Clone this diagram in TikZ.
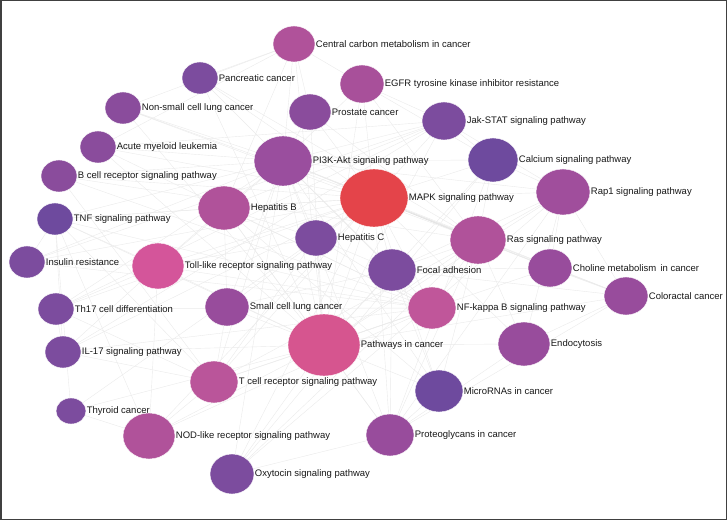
\documentclass[tikz,border=0pt]{standalone}
\usepackage{fontspec}
\setmainfont{Liberation Sans}
\usetikzlibrary{shapes.geometric}
\pgfdeclarelayer{bg}
\pgfsetlayers{bg,main}
\definecolor{cred}{HTML}{E4444A}
\definecolor{cpinkA}{HTML}{D6558F}
\definecolor{cpinkB}{HTML}{D4559A}
\definecolor{cmid}{HTML}{B0529A}
\definecolor{cmidB}{HTML}{BA559A}
\definecolor{cmidC}{HTML}{C0569A}
\definecolor{cmidD}{HTML}{A8509A}
\definecolor{cpurA}{HTML}{9A4E9E}
\definecolor{cpurB}{HTML}{984C9C}
\definecolor{cpurC}{HTML}{A04E9C}
\definecolor{cpurD}{HTML}{8A4C9C}
\definecolor{cpurE}{HTML}{7C4C9E}
\definecolor{cblu}{HTML}{6E4A9E}
\tikzset{
  pw/.style={ellipse, inner sep=0pt, draw=white, line width=0.4pt},
  lbl/.style={anchor=west, inner sep=0.5pt, font=\fontsize{9.5}{11}\selectfont, text=black!90},
  edge/.style={draw=black!8, line width=0.4pt},
}
\newcommand\mynode[7]{%
  \node[pw, minimum width=#4*2pt, minimum height=#5*2pt, fill=#6] (#1) at (#2,#3) {};
  \node[lbl] (#1-l) at (#1.east) {#7};}
\begin{document}
\begin{tikzpicture}[x=1pt,y=-1pt]
\useasboundingbox (0,0) rectangle (728,521);
\mynode{ccm}{294}{44}{21}{18}{cmid}{Central carbon metabolism in cancer}
\mynode{panc}{200}{78}{18}{16}{cpurE}{Pancreatic cancer}
\mynode{nsclc}{123}{108}{18}{16}{cpurD}{Non-small cell lung cancer}
\mynode{aml}{98}{147}{18}{16}{cpurD}{Acute myeloid leukemia}
\mynode{bcell}{59}{176}{18}{16}{cpurD}{B cell receptor signaling pathway}
\mynode{tnf}{55}{219}{18}{16}{cblu}{TNF signaling pathway}
\mynode{ins}{27}{262}{18}{16}{cpurE}{Insulin resistance}
\mynode{th17}{56}{309}{18}{16}{cpurE}{Th17 cell differentiation}
\mynode{il17}{63}{352}{18}{16}{cpurE}{IL-17 signaling pathway}
\mynode{thy}{71}{411}{15}{13}{cpurE}{Thyroid cancer}
\mynode{nod}{149}{436}{26}{23}{cmid}{NOD-like receptor signaling pathway}
\mynode{oxy}{232}{474}{22}{20}{cpurE}{Oxytocin signaling pathway}
\mynode{tcell}{214}{382}{24}{21}{cmidB}{T cell receptor signaling pathway}
\mynode{sclc}{227}{307}{22}{19}{cpurB}{Small cell lung cancer}
\mynode{toll}{158}{266}{26}{23}{cpinkB}{Toll-like receptor signaling pathway}
\mynode{path}{324}{345}{36}{31}{cpinkA}{Pathways in cancer}
\mynode{hepb}{224}{208}{26}{22}{cmid}{Hepatitis B}
\mynode{pi3k}{283}{161}{29}{25}{cpurA}{PI3K-Akt signaling pathway}
\mynode{pros}{310}{112}{21}{18}{cpurD}{Prostate cancer}
\mynode{egfr}{362}{84}{22}{19}{cmidD}{EGFR tyrosine kinase inhibitor resistance}
\mynode{hepc}{316}{238}{21}{18}{cpurE}{Hepatitis C}
\mynode{mapk}{374}{198}{34}{29}{cred}{MAPK signaling pathway}
\mynode{jak}{444}{121}{22}{19}{cpurE}{Jak-STAT signaling pathway}
\mynode{calc}{493}{160}{25}{22}{cblu}{Calcium signaling pathway}
\mynode{rap1}{563}{192}{27}{23}{cpurC}{Rap1 signaling pathway}
\mynode{ras}{478}{240}{28}{24}{cmid}{Ras signaling pathway}
\mynode{focal}{392}{270}{24}{21}{cpurE}{Focal adhesion}
\mynode{chol}{550}{268}{22}{19}{cpurB}{Choline metabolism\, in cancer}
\mynode{colo}{626}{296}{22}{19}{cpurB}{Coloractal cancer}
\mynode{nfkb}{432}{308}{24}{21}{cmidC}{NF-kappa B signaling pathway}
\mynode{endo}{524}{344}{26}{22}{cpurB}{Endocytosis}
\mynode{mirna}{439}{391}{24}{21}{cblu}{MicroRNAs in cancer}
\mynode{prot}{390}{435}{24}{21}{cpurB}{Proteoglycans in cancer}
\begin{pgfonlayer}{bg}
\fill[white] (0,0) rectangle (728,521);
\foreach \t in {ccm,panc,nsclc,aml,pros,egfr,jak,calc,rap1,ras,focal,chol,colo,nfkb,mirna,prot,sclc,thy,hepb,hepc,pi3k,mapk,tnf,il17,toll,tcell,nod,endo,oxy}
  \draw[edge] (path) -- (\t);
\foreach \t in {panc,nsclc,aml,bcell,tnf,ins,th17,il17,thy,nod,oxy,tcell,sclc,toll,hepb,pi3k,pros,egfr,hepc,jak,calc,rap1,focal,chol,colo,nfkb,endo,mirna,prot}
  \draw[edge] (mapk) -- (\t);
\draw[edge, draw=black!14, line width=1pt] (mapk) -- (ras);
\foreach \t in {panc,nsclc,aml,bcell,tnf,ins,th17,sclc,toll,hepb,hepc,pros,egfr,jak,calc,rap1,ras,focal,chol,colo,nfkb,mirna,prot,tcell,ccm,oxy}
  \draw[edge] (pi3k) -- (\t);
\foreach \t in {rap1,calc,focal,chol,egfr,pros,nsclc,panc,bcell,tcell,endo,colo,prot,mirna,oxy,nfkb}
  \draw[edge] (ras) -- (\t);
\foreach \t in {calc,focal,chol,endo,colo,prot,oxy,jak}
  \draw[edge] (rap1) -- (\t);
\foreach \t in {tnf,toll,bcell,tcell,il17,th17,nod,hepb,hepc,aml,ins}
  \draw[edge] (nfkb) -- (\t);
\foreach \t in {tnf,hepb,hepc,nod,il17,th17,ins}
  \draw[edge] (toll) -- (\t);
\foreach \t in {bcell,th17,il17,tnf,nod,hepc,sclc}
  \draw[edge] (tcell) -- (\t);
\foreach \t in {hepc,jak,tnf,sclc,mirna,prot,ccm}
  \draw[edge] (hepb) -- (\t);
\foreach \t in {sclc,prot,chol,colo,mirna,hepc}
  \draw[edge] (focal) -- (\t);
\foreach \t in {mirna,colo,endo,calc,oxy}
  \draw[edge] (prot) -- (\t);
\foreach \t in {oxy,jak,egfr}
  \draw[edge] (calc) -- (\t);
\foreach \t in {th17,il17,ins,aml,egfr}
  \draw[edge] (jak) -- (\t);
\foreach \t in {egfr,pros,nsclc,panc,aml}
  \draw[edge] (ccm) -- (\t);
\foreach \t in {ins,il17,nod,thy}
  \draw[edge] (tnf) -- (\t);
\draw[edge] (chol) -- (colo);
\draw[edge] (endo) -- (colo);
\draw[edge] (thy) -- (nod);
\draw[edge] (th17) -- (il17);
\end{pgfonlayer}
\draw[black!75, line width=1.5pt] (0.75,0.75) rectangle (726.5,519.5);
\end{tikzpicture}
\end{document}
